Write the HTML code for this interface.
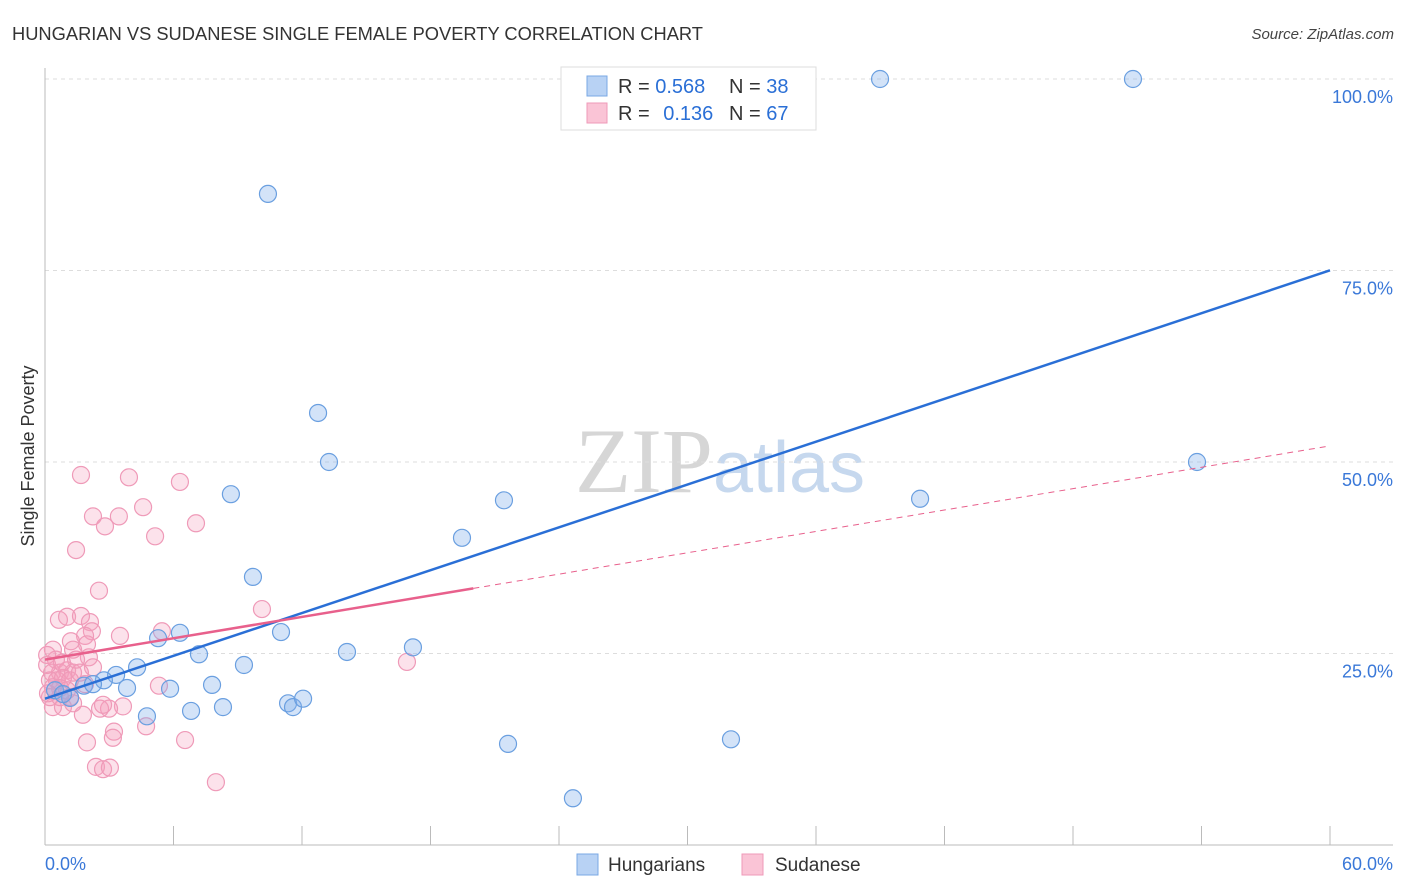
<!DOCTYPE html>
<html><head><meta charset="utf-8"><style>
body{margin:0;background:#fff;font-family:"Liberation Sans",sans-serif}
svg{display:block}
</style></head><body>
<svg id="c" width="1406" height="892" xmlns="http://www.w3.org/2000/svg">
<text x="12" y="40" font-size="18" fill="#333" textLength="691" lengthAdjust="spacingAndGlyphs">HUNGARIAN VS SUDANESE SINGLE FEMALE POVERTY CORRELATION CHART</text>
<text x="1394" y="39" font-size="15" fill="#444" text-anchor="end" font-style="italic">Source: ZipAtlas.com</text>
<text x="720" y="492" font-size="92" fill="#d6d6d6" text-anchor="middle" font-family="Liberation Serif,serif">ZIP<tspan fill="#c6d8ee" font-family="Liberation Sans,sans-serif" font-size="72">atlas</tspan></text>
<text transform="translate(34,456) rotate(-90)" font-size="18" fill="#333" text-anchor="middle">Single Female Poverty</text>
<g id="grid"></g><g id="pts"></g><g id="lines"></g>
<g>
<rect x="561" y="67" width="255" height="63" fill="#fff" stroke="#ddd"/>
<rect x="587" y="76" width="20" height="20" fill="#b8d2f4" stroke="#7aa8e4"/>
<rect x="587" y="103" width="20" height="20" fill="#fac4d6" stroke="#ef9ab8"/>
<text x="618" y="93" font-size="20" fill="#333">R = <tspan fill="#2a6fd6">0.568</tspan><tspan x="729">N = </tspan><tspan fill="#2a6fd6">38</tspan></text>
<text x="618" y="120" font-size="20" fill="#333">R = <tspan fill="#2a6fd6" dx="8">0.136</tspan><tspan x="729">N = </tspan><tspan fill="#2a6fd6">67</tspan></text>
</g>
<g>
<rect x="577" y="854" width="21" height="21" fill="#b8d2f4" stroke="#7aa8e4"/>
<text x="608" y="871" font-size="19" fill="#333">Hungarians</text>
<rect x="742" y="854" width="21" height="21" fill="#fac4d6" stroke="#ef9ab8"/>
<text x="775" y="871" font-size="19" fill="#333">Sudanese</text>
</g>
</svg>
<script>
const blueX=[38.99,50.80,10.41,12.75,13.26,53.79,8.68,21.43,40.86,19.47,9.71,6.30,5.28,11.02,17.18,14.10,7.19,4.30,9.29,3.32,2.75,1.82,2.24,3.83,5.84,7.80,0.47,1.17,0.84,11.35,11.58,12.05,8.31,6.82,4.76,21.62,32.03,24.65];
const blueY=[100,100,85.0,56.4,50.0,50.0,45.8,45.0,45.2,40.1,35.0,27.7,27.0,27.8,25.8,25.2,24.9,23.2,23.5,22.2,21.5,20.8,21.0,20.5,20.4,20.9,20.2,19.2,19.7,18.5,18.0,19.1,18.0,17.5,16.8,13.2,13.8,6.1];
const pinkX=[1.68,3.92,6.30,2.24,3.45,2.80,4.58,5.14,7.05,1.45,2.52,10.13,5.46,16.90,1.96,3.22,3.17,2.38,2.71,3.03,7.98,6.54,4.72,5.32,3.64,2.99,2.57,1.77,2.71,0.65,1.03,1.68,2.10,2.19,1.87,1.96,1.21,1.31,2.05,2.24,0.37,0.51,0.33,0.70,1.03,1.31,0.23,0.56,0.84,1.17,0.37,0.70,1.03,1.63,0.37,0.84,1.31,0.23,0.70,1.17,0.1,0.1,0.14,1.45,0.79,1.87,3.5];
const pinkY=[48.3,48.0,47.4,42.9,42.9,41.6,44.1,40.3,42.0,38.5,33.2,30.8,27.9,23.9,13.4,14.8,14.0,10.2,9.9,10.1,8.2,13.7,15.5,20.8,18.1,17.8,17.8,17.0,18.3,29.4,29.8,29.9,29.1,27.9,27.3,26.2,26.6,25.5,24.5,23.2,25.5,24.2,22.5,22.5,22.8,22.5,21.5,21.5,21.8,21.5,20.6,20.5,20.2,22.5,18.0,18.0,18.5,19.3,19.3,19.3,24.8,23.5,19.8,24.2,23.8,21.0,27.3];
const blueTrend=[19.1,0.932]; // intercept, slope
const pinkTrend=[24.2,0.465];
const yTicks=[25,50,75,100];
const yTickLabels=["25.0%","50.0%","75.0%","100.0%"];
const xTicks=[0,6,12,18,24,30,36,42,48,54,60];
const NS="http://www.w3.org/2000/svg";
const sx=v=>45+v*1285/60, sy=v=>845-v*7.66;
function mk(t,a,p){const e=document.createElementNS(NS,t);for(const k in a)e.setAttribute(k,a[k]);p.appendChild(e);return e;}
const g=document.getElementById('grid');
yTicks.forEach((t,i)=>{
 const l=mk('line',{x1:45,x2:1393,y1:sy(t),y2:sy(t),stroke:'#ddd','stroke-dasharray':'4,4'},g);
 
 
 const tx=mk('text',{x:1393,y:sy(t)+24,'font-size':18,fill:'#3a78d8','text-anchor':'end'},g);
 tx.textContent=yTickLabels[i];
 
 
});
const ax=mk('line',{x1:45,x2:45,y1:68,y2:845,stroke:'#bbb'},g);


const xa=mk('line',{x1:45,x2:1393,y1:845,y2:845,stroke:'#bbb'},g);


xTicks.forEach(t=>{const l=mk('line',{x1:sx(t),x2:sx(t),y1:826,y2:845,stroke:'#bbb'},g);
 
 });
[[0,"0.0%",'start',45],[60,"60.0%",'end',1393]].forEach(d=>{const t=mk('text',{x:d[3],y:870,'font-size':18,fill:'#3a78d8','text-anchor':d[2]},g);t.textContent=d[1];
 
 });
const P=document.getElementById('pts');
pinkX.forEach((x,i)=>{const c=mk('circle',{cx:sx(x),cy:sy(pinkY[i]),r:8.5,fill:'rgba(245,160,190,0.3)',stroke:'#ef9ab8','stroke-width':1.2},P);
 
 });
blueX.forEach((x,i)=>{const c=mk('circle',{cx:sx(x),cy:sy(blueY[i]),r:8.5,fill:'rgba(130,175,235,0.35)',stroke:'#6a9fe0','stroke-width':1.2},P);
 
 });
const L=document.getElementById('lines');
const f=(tr,x)=>tr[0]+tr[1]*x;
let l1=mk('line',{x1:sx(0),y1:sy(f(blueTrend,0)),x2:sx(60),y2:sy(f(blueTrend,60)),stroke:'#2a6fd6','stroke-width':2.5},L);


let l2=mk('line',{x1:sx(0),y1:sy(f(pinkTrend,0)),x2:sx(20),y2:sy(f(pinkTrend,20)),stroke:'#e8608c','stroke-width':2.5},L);


let l3=mk('line',{x1:sx(20),y1:sy(f(pinkTrend,20)),x2:sx(60),y2:sy(f(pinkTrend,60)),stroke:'#e8608c','stroke-width':1,'stroke-dasharray':'6,5'},L);


</script>
</body></html>
